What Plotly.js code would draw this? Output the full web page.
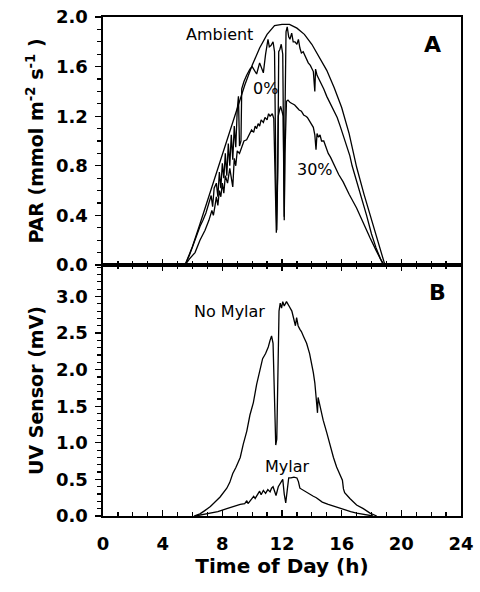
<!DOCTYPE html>
<html>
<head>
<meta charset="utf-8">
<script src="https://cdn.plot.ly/plotly-3.0.1.min.js"></script>
<style>html,body{margin:0;padding:0;background:#fff;}#chart{width:480px;height:592px;}</style>
</head>
<body>
<div id="chart"></div>
<script>
// Panel A: PAR (mmol m-2 s-1) vs time of day (h)
const hAmb   = [5.5, 6.0, 6.5, 7.0, 7.5, 8.0, 8.5, 9.0, 9.5, 10.0, 10.5, 11.0, 11.5, 12.0, 12.5, 13.0, 13.5, 14.0, 14.5, 15.0, 15.5, 16.0, 16.5, 17.0, 17.5, 18.0, 18.5, 18.9];
const parAmb = [0, 0.15, 0.33, 0.52, 0.70, 0.89, 1.08, 1.27, 1.45, 1.61, 1.75, 1.86, 1.93, 1.94, 1.94, 1.91, 1.86, 1.78, 1.68, 1.57, 1.43, 1.27, 1.06, 0.79, 0.57, 0.36, 0.16, 0];

const h0   = [5.5, 5.8, 6.1, 6.3, 6.5, 6.7, 6.9, 7.1, 7.25, 7.35, 7.45, 7.6, 7.7, 7.8, 7.9, 8.0, 8.1, 8.2, 8.3, 8.4, 8.5, 8.6, 8.7, 8.8, 8.9, 9.0, 9.08, 9.15, 9.25, 9.3, 9.45, 9.63, 9.85, 10.0, 10.15, 10.3, 10.5, 10.65, 10.75, 10.9, 11.06, 11.15, 11.26, 11.4, 11.5, 11.6, 11.65, 11.72, 11.78, 11.86, 11.95, 12.05, 12.1, 12.15, 12.2, 12.27, 12.35, 12.45, 12.53, 12.65, 12.75, 12.87, 13.0, 13.1, 13.2, 13.3, 13.42, 13.54, 13.65, 13.76, 13.9, 14.0, 14.1, 14.2, 14.25, 14.35, 14.43, 14.55, 14.66, 14.8, 15.0, 15.2, 15.44, 15.7, 15.9, 16.1, 16.33, 16.55, 16.7, 17.0, 17.3, 17.67, 18.0, 18.3, 18.6, 18.85];
const par0 = [0, 0.08, 0.18, 0.25, 0.31, 0.36, 0.42, 0.50, 0.56, 0.47, 0.62, 0.66, 0.55, 0.75, 0.62, 0.82, 0.70, 0.90, 0.72, 0.98, 0.80, 1.05, 0.85, 1.12, 0.95, 1.25, 1.36, 0.96, 1.00, 1.42, 1.48, 1.53, 1.58, 1.60, 1.57, 1.54, 1.63, 1.58, 1.55, 1.70, 1.82, 1.76, 1.77, 1.80, 1.72, 0.60, 0.28, 0.80, 1.72, 1.74, 1.78, 1.70, 0.80, 0.39, 1.20, 1.88, 1.92, 1.84, 1.82, 1.87, 1.80, 1.80, 1.78, 1.82, 1.75, 1.71, 1.72, 1.69, 1.66, 1.63, 1.61, 1.58, 1.56, 1.40, 1.58, 1.53, 1.51, 1.48, 1.46, 1.42, 1.36, 1.31, 1.26, 1.19, 1.12, 1.05, 0.96, 0.88, 0.80, 0.68, 0.54, 0.40, 0.25, 0.14, 0.05, 0];

const h30   = [5.5, 5.8, 6.17, 6.5, 6.84, 7.1, 7.3, 7.4, 7.5, 7.6, 7.7, 7.8, 7.9, 8.0, 8.1, 8.2, 8.35, 8.5, 8.7, 8.8, 8.9, 9.0, 9.15, 9.3, 9.45, 9.63, 9.8, 9.96, 10.1, 10.2, 10.3, 10.4, 10.5, 10.6, 10.75, 10.86, 11.0, 11.1, 11.2, 11.35, 11.45, 11.55, 11.62, 11.7, 11.75, 11.82, 11.9, 12.0, 12.08, 12.12, 12.15, 12.2, 12.25, 12.3, 12.4, 12.55, 12.7, 12.85, 13.0, 13.15, 13.3, 13.45, 13.6, 13.7, 13.85, 14.0, 14.1, 14.2, 14.28, 14.35, 14.45, 14.55, 14.65, 14.8, 14.95, 15.1, 15.25, 15.4, 15.6, 15.8, 16.1, 16.5, 17.0, 17.4, 17.9, 18.3, 18.6, 18.8];
const par30 = [0, 0.05, 0.10, 0.20, 0.28, 0.36, 0.44, 0.40, 0.47, 0.55, 0.48, 0.60, 0.55, 0.66, 0.58, 0.72, 0.66, 0.78, 0.63, 0.86, 0.80, 0.92, 0.90, 0.96, 1.00, 1.01, 1.05, 1.09, 1.07, 1.12, 1.10, 1.14, 1.12, 1.17, 1.15, 1.19, 1.17, 1.22, 1.20, 1.22, 1.18, 0.60, 0.26, 0.70, 1.20, 1.24, 1.28, 1.24, 1.20, 0.70, 0.36, 0.90, 1.28, 1.32, 1.33, 1.31, 1.30, 1.29, 1.27, 1.25, 1.24, 1.21, 1.20, 1.19, 1.16, 1.13, 1.11, 1.05, 0.93, 1.06, 1.03, 1.05, 1.00, 1.00, 0.95, 0.90, 0.87, 0.83, 0.78, 0.73, 0.67, 0.57, 0.46, 0.35, 0.22, 0.12, 0.05, 0];

// Panel B: UV sensor (mV)
const hNo  = [6.1, 6.5, 6.8, 7.2, 7.85, 8.3, 8.5, 8.7, 8.9, 9.2, 9.4, 9.64, 9.85, 10.08, 10.3, 10.5, 10.7, 10.9, 11.08, 11.2, 11.3, 11.4, 11.48, 11.58, 11.65, 11.72, 11.8, 11.88, 11.97, 12.05, 12.15, 12.3, 12.4, 12.5, 12.66, 12.8, 12.9, 12.98, 13.08, 13.2, 13.3, 13.45, 13.65, 13.85, 14.0, 14.1, 14.2, 14.3, 14.38, 14.42, 14.5, 14.6, 14.76, 15.0, 15.2, 15.45, 15.66, 15.85, 16.05, 16.12, 16.2, 16.55, 17.0, 17.45, 17.9, 18.35];
const uvNo = [0, 0.03, 0.07, 0.13, 0.26, 0.38, 0.46, 0.58, 0.66, 0.80, 0.98, 1.16, 1.38, 1.55, 1.80, 1.96, 2.15, 2.22, 2.31, 2.40, 2.46, 2.36, 1.60, 0.97, 1.05, 2.10, 2.80, 2.91, 2.84, 2.93, 2.87, 2.93, 2.90, 2.86, 2.80, 2.66, 2.60, 2.71, 2.60, 2.55, 2.52, 2.45, 2.36, 2.22, 2.09, 1.96, 1.82, 1.62, 1.41, 1.62, 1.54, 1.43, 1.31, 1.14, 0.98, 0.80, 0.67, 0.57, 0.49, 0.37, 0.32, 0.24, 0.15, 0.10, 0.04, 0];

const hMy  = [6.2, 7.0, 7.7, 8.3, 8.7, 9.2, 9.5, 9.64, 9.72, 9.9, 10.1, 10.2, 10.35, 10.5, 10.6, 10.75, 10.9, 11.05, 11.2, 11.3, 11.4, 11.5, 11.6, 11.75, 11.9, 12.05, 12.15, 12.25, 12.35, 12.45, 12.6, 12.8, 13.0, 13.1, 13.2, 13.5, 13.8, 14.1, 14.3, 14.7, 15.1, 15.7, 16.2, 16.6, 17.0, 17.5, 18.1];
const uvMy = [0, 0.03, 0.06, 0.10, 0.13, 0.16, 0.17, 0.21, 0.17, 0.22, 0.27, 0.24, 0.30, 0.34, 0.29, 0.35, 0.31, 0.36, 0.33, 0.38, 0.40, 0.33, 0.28, 0.40, 0.46, 0.50, 0.30, 0.18, 0.35, 0.52, 0.52, 0.53, 0.52, 0.47, 0.38, 0.34, 0.30, 0.27, 0.25, 0.19, 0.16, 0.12, 0.08, 0.06, 0.04, 0.02, 0];

const xTicks = [0, 4, 8, 12, 16, 20, 24];
const parTicks = [0, 0.4, 0.8, 1.2, 1.6, 2.0];
const uvTicks = [0, 0.5, 1.0, 1.5, 2.0, 2.5, 3.0];

const lineStyle = {color: '#000', width: 1.3};
const traces = [
  {x: hAmb, y: parAmb, xaxis: 'x2', yaxis: 'y', mode: 'lines', line: lineStyle, name: 'Ambient'},
  {x: h0, y: par0, xaxis: 'x2', yaxis: 'y', mode: 'lines', line: lineStyle, name: '0%'},
  {x: h30, y: par30, xaxis: 'x2', yaxis: 'y', mode: 'lines', line: lineStyle, name: '30%'},
  {x: hNo, y: uvNo, xaxis: 'x', yaxis: 'y2', mode: 'lines', line: lineStyle, name: 'No Mylar'},
  {x: hMy, y: uvMy, xaxis: 'x', yaxis: 'y2', mode: 'lines', line: lineStyle, name: 'Mylar'}
];

const tickFont = {family: 'DejaVu Sans', size: 18, color: '#000', weight: 'bold'};
const titleFont = {family: 'DejaVu Sans', size: 20, color: '#000', weight: 'bold'};
const yTitleFont = {family: 'DejaVu Sans', size: 19, color: '#000', weight: 'bold'};
const split = 0.503;

const layout = {
  width: 480, height: 592,
  margin: {l: 103, r: 19, t: 17, b: 76},
  paper_bgcolor: '#fff', plot_bgcolor: '#fff',
  showlegend: false,
  font: {family: 'DejaVu Sans', color: '#000'},
  xaxis: {
    domain: [0, 1], anchor: 'y2', range: [0, 24],
    tickvals: xTicks, ticktext: xTicks.map(String),
    ticks: 'inside', ticklen: 6, tickwidth: 1.3, tickcolor: '#000',
    minor: {dtick: 1, tick0: 0, ticks: 'inside', ticklen: 4, tickwidth: 1.2, tickcolor: '#000'},
    showline: true, linecolor: '#000', linewidth: 1.6, mirror: 'ticks',
    showgrid: false, zeroline: false,
    tickfont: tickFont, ticklabelstandoff: 11,
    title: {text: 'Time of Day (h)', font: titleFont, standoff: 4}
  },
  xaxis2: {
    domain: [0, 1], anchor: 'y', matches: 'x', range: [0, 24],
    tickvals: xTicks, showticklabels: false,
    ticks: 'inside', ticklen: 6, tickwidth: 1.3, tickcolor: '#000',
    minor: {dtick: 1, tick0: 0, ticks: 'inside', ticklen: 4, tickwidth: 1.2, tickcolor: '#000'},
    showline: true, linecolor: '#000', linewidth: 1.6, mirror: true,
    showgrid: false, zeroline: false
  },
  yaxis: {
    domain: [split, 1], anchor: 'x2', range: [0, 2.0],
    tickvals: parTicks, ticktext: parTicks.map(v => v.toFixed(1)),
    ticks: 'outside', ticklen: 6, tickwidth: 1.3, tickcolor: '#000',
    minor: {dtick: 0.1, tick0: 0, ticks: 'outside', ticklen: 4, tickwidth: 1.2, tickcolor: '#000'},
    showline: true, linecolor: '#000', linewidth: 1.6, mirror: true,
    showgrid: false, zeroline: false,
    tickfont: tickFont, ticklabelstandoff: 4,
    title: {text: 'PAR (mmol m<sup>-2</sup> s<sup>-1</sup> )', font: yTitleFont, standoff: 7}
  },
  yaxis2: {
    domain: [0, split], anchor: 'x', range: [0, 3.43],
    tickvals: uvTicks, ticktext: uvTicks.map(v => v.toFixed(1)),
    ticks: 'outside', ticklen: 6, tickwidth: 1.3, tickcolor: '#000',
    minor: {dtick: 0.1, tick0: 0, ticks: 'outside', ticklen: 4, tickwidth: 1.2, tickcolor: '#000'},
    showline: true, linecolor: '#000', linewidth: 1.6, mirror: true,
    showgrid: false, zeroline: false,
    tickfont: tickFont, ticklabelstandoff: 4,
    title: {text: 'UV Sensor (mV)', font: yTitleFont, standoff: 7}
  },
  annotations: [
    {text: 'Ambient', x: 7.84, y: 1.86, xref: 'x2', yref: 'y', showarrow: false, font: {family: 'DejaVu Sans', size: 16, color: '#000'}},
    {text: '0%', x: 10.92, y: 1.42, xref: 'x2', yref: 'y', showarrow: false, font: {family: 'DejaVu Sans', size: 16, color: '#000'}},
    {text: '30%', x: 14.2, y: 0.77, xref: 'x2', yref: 'y', showarrow: false, font: {family: 'DejaVu Sans', size: 16, color: '#000'}},
    {text: 'A', x: 22.1, y: 1.78, xref: 'x2', yref: 'y', showarrow: false, font: {family: 'DejaVu Sans', size: 22, color: '#000', weight: 'bold'}},
    {text: 'No Mylar', x: 8.5, y: 2.79, xref: 'x', yref: 'y2', showarrow: false, font: {family: 'DejaVu Sans', size: 16, color: '#000'}},
    {text: 'Mylar', x: 12.4, y: 0.67, xref: 'x', yref: 'y2', showarrow: false, font: {family: 'DejaVu Sans', size: 16, color: '#000'}},
    {text: 'B', x: 22.4, y: 3.05, xref: 'x', yref: 'y2', showarrow: false, font: {family: 'DejaVu Sans', size: 22, color: '#000', weight: 'bold'}}
  ]
};

Plotly.newPlot('chart', traces, layout, {displayModeBar: false, staticPlot: true});
</script>
</body>
</html>
